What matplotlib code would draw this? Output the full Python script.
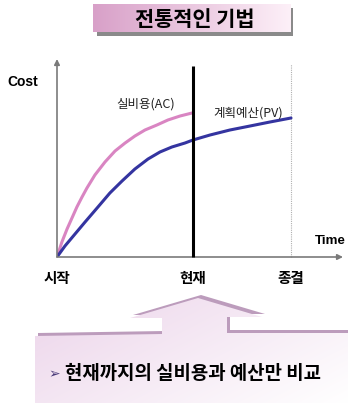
import numpy as np
import matplotlib
matplotlib.use("Agg")
import matplotlib.pyplot as plt
from matplotlib.patches import Polygon, Rectangle

plt.rcParams['font.family'] = ['Noto Sans CJK KR', 'DejaVu Sans']

# ---- data -------------------------------------------------------------
title = "전통적인 기법"
milestone_labels = ["시작", "현재", "종결"]
milestone_times = [0, 58, 100]

# actual cost (AC) up to the status date
time_ac = [0, 2.1, 4.3, 6.4, 8.5, 10.7, 12.8, 16.2, 20.5, 24.8, 29.1,
           33.3, 37.6, 42.7, 47.4, 52.6, 57.7]
cost_ac = [0, 15, 28, 39, 50, 60, 69, 82, 95, 106, 114,
           121, 127, 132, 137, 141, 144]

# planned value (PV) over the whole project
time_pv = [0, 3.4, 7.7, 12.0, 17.5, 22.6, 27.8, 33.3, 38.9, 44.0, 49.1,
           54.7, 58.1, 65.4, 73.9, 82.5, 91.0, 100]
cost_pv = [0, 11, 23, 35, 50, 64, 76, 88, 98, 105, 110,
           114, 117, 122, 127, 131, 135, 139]

label_ac = "실비용(AC)"
label_pv = "계획예산(PV)"
note = "현재까지의 실비용과 예산만 비교"

W, H = 348, 410
fig = plt.figure(figsize=(W / 100, H / 100), dpi=100)
fig.patch.set_facecolor("white")

# background layer in pixel units for the decorative shapes
bg = fig.add_axes([0, 0, 1, 1])
bg.set_xlim(0, W)
bg.set_ylim(H, 0)
bg.axis("off")


def gradient_fill(ax, patch, extent, c0, c1, wx, wy, zorder=1):
    n = 256
    g = np.linspace(0, 1, n)
    xx, yy = np.meshgrid(g, g)
    t = np.clip(wx * xx + wy * yy, 0, 1)
    c0 = np.array(matplotlib.colors.to_rgb(c0))
    c1 = np.array(matplotlib.colors.to_rgb(c1))
    img = c0[None, None, :] * (1 - t[..., None]) + c1[None, None, :] * t[..., None]
    im = ax.imshow(img, extent=extent, origin="upper", aspect="auto",
                   zorder=zorder, interpolation="bilinear")
    im.set_clip_path(patch)


# title banner with drop shadow
bg.add_patch(Rectangle((97, 9), 196, 28, facecolor="#8a8a8a", edgecolor="none", zorder=1))
banner = Rectangle((93, 5), 198, 28, facecolor="none", edgecolor="none", zorder=2)
bg.add_patch(banner)
gradient_fill(bg, banner, (93, 291, 33, 5), "#d8a0c8", "#fdf0f8", 1.0, 0.0, zorder=2)
bg.text(195, 20, title, ha="center", va="center", fontsize=15,
        fontweight="heavy", color="black", zorder=3)

# callout arrow with bevelled top edge
shape = [(35, 337), (162, 335), (162, 319), (130, 319), (198, 299),
         (262, 318), (227, 318), (227, 334), (348, 334), (348, 404), (35, 404)]
bevel = [(x + 3, y - 3) for x, y in shape]
bg.add_patch(Polygon(bevel, closed=True, facecolor="#bc9cbc", edgecolor="none", zorder=1))
callout = Polygon(shape, closed=True, facecolor="none", edgecolor="none", zorder=2)
bg.add_patch(callout)
gradient_fill(bg, callout, (35, 348, 404, 296), "#ecd4ea", "#ffffff", 0.6, 0.4, zorder=2)
bg.text(48, 374, "➢", ha="left", va="center", fontsize=10, color="#4a3a7a",
        family="DejaVu Sans", zorder=3)
bg.text(65, 374, note, ha="left", va="center", fontsize=13.6,
        fontweight="bold", color="black", zorder=3)

# ---- chart ------------------------------------------------------------
x0, x1 = 57, 343
y0, y1 = 258, 60
ax = fig.add_axes([x0 / W, (H - y0) / H, (x1 - x0) / W, (y0 - y1) / H])
ax.set_xlim(0, (x1 - x0) / 2.34)
ax.set_ylim(0, y0 - y1)
ax.patch.set_alpha(0)
for s in ax.spines.values():
    s.set_visible(False)

# axes with arrowheads
ax.annotate("", xy=(0, 1.0), xytext=(0, 0), xycoords="axes fraction",
            arrowprops=dict(arrowstyle="-|>", color="#7a7a7a", lw=1.2,
                            mutation_scale=8, shrinkA=0, shrinkB=0))
ax.annotate("", xy=(1.0, 0), xytext=(0, 0), xycoords="axes fraction",
            arrowprops=dict(arrowstyle="-|>", color="#7a7a7a", lw=1.2,
                            mutation_scale=8, shrinkA=0, shrinkB=0))

# status date and project end
ax.plot([milestone_times[1]] * 2, [0, 191], color="black", lw=2.2,
        solid_capstyle="butt", clip_on=False, zorder=3)
ax.plot([milestone_times[2]] * 2, [0, 193], color="#b0b0b0", lw=0.8,
        ls=(0, (1, 1)), clip_on=False, zorder=1)

# cost curves
ax.plot(time_ac, cost_ac, color="#d985c2", lw=2.2, solid_capstyle="round",
        solid_joinstyle="round", zorder=2)
ax.plot(time_pv, cost_pv, color="#3434a0", lw=2.2, solid_capstyle="round",
        solid_joinstyle="round", zorder=2)

ax.text(38, 154, label_ac, ha="center", va="center", fontsize=9, color="#222222")
ax.text(81.5, 145, label_pv, ha="center", va="center", fontsize=9, color="#222222")

ax.set_xticks(milestone_times)
ax.set_xticklabels(milestone_labels, fontsize=10.5, fontweight="bold")
ax.tick_params(axis="x", length=0, pad=8.5)
ax.set_yticks([])

fig.text(7 / W, 1 - 82 / H, "Cost", ha="left", va="center", fontsize=10,
         fontweight="bold", family="Liberation Sans")
fig.text(315 / W, 1 - 241 / H, "Time", ha="left", va="center", fontsize=9.6,
         fontweight="bold", family="Liberation Sans")

fig.savefig("out.png", dpi=100, facecolor="white")
